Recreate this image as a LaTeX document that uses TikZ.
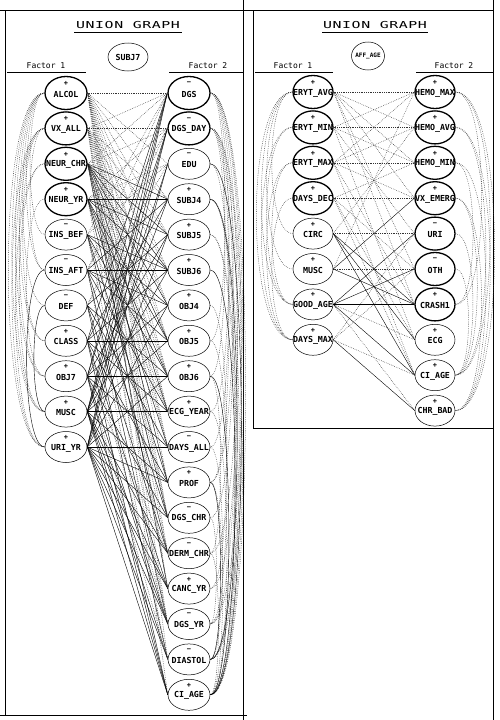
\documentclass[tikz,border=0pt]{standalone}
\usepackage{fontspec}
\newfontfamily\labfont{DejaVu Sans Mono}
\newfontfamily\titlefont{DejaVu Sans Mono}[FakeStretch=1.55,LetterSpace=6]
\usetikzlibrary{shapes.geometric}
\newcommand\grnode[6]{%
  \node[ell,#6] (#1) at (#2,#3) {};
  \node[lab] (#1t) at (#2,#3+1) {#5};
  \node[sgn] (#1s) at (#2,#3-9.5) {#4};}
\begin{document}
\begin{tikzpicture}[x=1pt,y=-1pt,
  ell/.style={draw, ellipse, minimum width=42pt, minimum height=31pt, inner sep=0pt, line width=0.5pt, fill=white},
  tk/.style={line width=1.3pt, minimum height=33pt},
  tn/.style={},
  nar/.style={minimum width=40pt},
  lab/.style={font=\labfont\bfseries\fontsize{8.3}{9}\selectfont, inner sep=0pt},
  sgn/.style={font=\labfont\bfseries\fontsize{7}{8}\selectfont, inner sep=0pt},
  fac/.style={font=\labfont\fontsize{8}{9}\selectfont, inner sep=0pt},
  ttl/.style={font=\titlefont\fontsize{9.6}{11}\selectfont, inner sep=0pt},
  sol/.style={line width=0.4pt, black},
  dot/.style={line width=0.5pt, black!80, dash pattern=on 0.6pt off 1.2pt},
  frm/.style={line width=0.9pt, black}]
\useasboundingbox (0,0) rectangle (499,720);
% frames
\draw[frm] (0,10) -- (493,10);
\draw[frm] (243,0) -- (243,720);
\draw[frm] (493,0) -- (493,720);
\draw[frm] (5,10) -- (5,715);
\draw[frm] (0,715) -- (247,715);
\draw[frm] (253,10) -- (253,428) -- (493,428);
% titles
\node[ttl] (t1) at (128,25) {UNION GRAPH};
\draw[line width=0.6pt] (74,32) -- (182,32);
\node[ttl] (t2) at (375,25) {UNION GRAPH};
\draw[line width=0.6pt] (322,32) -- (428,32);
\node[fac] (f11) at (46,66) {Factor 1};
\node[fac] (f12) at (208,66) {Factor 2};
\draw[line width=0.5pt] (7,72) -- (86,72);
\draw[line width=0.5pt] (169,72) -- (243,72);
\node[fac] (f21) at (293,66) {Factor 1};
\node[fac] (f22) at (454,66) {Factor 2};
\draw[line width=0.5pt] (255,72) -- (333,72);
\draw[line width=0.5pt] (416,72) -- (493,72);
% roots
\node[ell, minimum width=40pt, minimum height=28pt] (lroot) at (128,57) {};
\node[lab] (lroott) at (128,57) {SUBJ7};
\node[ell, minimum width=33pt, minimum height=28pt] (rroot) at (368,56) {};
\node[lab, font=\labfont\bfseries\fontsize{6}{7}\selectfont] (rroott) at (368,56) {AFF\_AGE};
% left panel, column A
\grnode{lA1}{66}{93}{+}{ALCOL}{tk}
\grnode{lA2}{66}{128.4}{+}{VX\_ALL}{tk}
\grnode{lA3}{66}{163.8}{+}{NEUR\_CHR}{tk}
\grnode{lA4}{66}{199.2}{+}{NEUR\_YR}{tk}
\grnode{lA5}{66}{234.6}{−}{INS\_BEF}{tn}
\grnode{lA6}{66}{270}{−}{INS\_AFT}{tn}
\grnode{lA7}{66}{305.4}{−}{DEF}{tn}
\grnode{lA8}{66}{340.8}{+}{CLASS}{tn}
\grnode{lA9}{66}{376.2}{+}{OBJ7}{tn}
\grnode{lA10}{66}{411.6}{+}{MUSC}{tn}
\grnode{lA11}{66}{447}{+}{URI\_YR}{tn}
% left panel, column B
\grnode{lB1}{189}{93}{−}{DGS}{tk}
\grnode{lB2}{189}{128.4}{−}{DGS\_DAY}{tk}
\grnode{lB3}{189}{163.8}{−}{EDU}{tn}
\grnode{lB4}{189}{199.2}{+}{SUBJ4}{tn}
\grnode{lB5}{189}{234.6}{+}{SUBJ5}{tn}
\grnode{lB6}{189}{270}{+}{SUBJ6}{tn}
\grnode{lB7}{189}{305.4}{+}{OBJ4}{tn}
\grnode{lB8}{189}{340.8}{+}{OBJ5}{tn}
\grnode{lB9}{189}{376.2}{+}{OBJ6}{tn}
\grnode{lB10}{189}{411.6}{+}{ECG\_YEAR}{tn}
\grnode{lB11}{189}{447}{−}{DAYS\_ALL}{tn}
\grnode{lB12}{189}{482.4}{+}{PROF}{tn}
\grnode{lB13}{189}{517.8}{−}{DGS\_CHR}{tn}
\grnode{lB14}{189}{553.2}{−}{DERM\_CHR}{tn}
\grnode{lB15}{189}{588.6}{+}{CANC\_YR}{tn}
\grnode{lB16}{189}{624}{−}{DGS\_YR}{tn}
\grnode{lB17}{189}{659.4}{−}{DIASTOL}{tn}
\grnode{lB18}{189}{694.8}{+}{CI\_AGE}{tn}
% right panel, column A
\grnode{rA1}{313}{92}{+}{ERYT\_AVG}{tk,nar}
\grnode{rA2}{313}{127.4}{+}{ERYT\_MIN}{tk,nar}
\grnode{rA3}{313}{162.8}{+}{ERYT\_MAX}{tk,nar}
\grnode{rA4}{313}{198.2}{+}{DAYS\_DEC}{tk,nar}
\grnode{rA5}{313}{233.6}{+}{CIRC}{nar}
\grnode{rA6}{313}{269}{+}{MUSC}{nar}
\grnode{rA7}{313}{304.4}{+}{GOOD\_AGE}{nar}
\grnode{rA8}{313}{339.8}{+}{DAYS\_MAX}{nar}
% right panel, column B
\grnode{rB1}{435}{92}{+}{HEMO\_MAX}{tk,nar}
\grnode{rB2}{435}{127.4}{+}{HEMO\_AVG}{tk,nar}
\grnode{rB3}{435}{162.8}{+}{HEMO\_MIN}{tk,nar}
\grnode{rB4}{435}{198.2}{+}{VX\_EMERG}{tk,nar}
\grnode{rB5}{435}{233.6}{−}{URI}{tk,nar}
\grnode{rB6}{435}{269}{−}{OTH}{tk,nar}
\grnode{rB7}{435}{304.4}{+}{CRASH1}{tk,nar}
\grnode{rB8}{435}{339.8}{+}{ECG}{nar}
\grnode{rB9}{435}{375.2}{+}{CI\_AGE}{nar}
\grnode{rB10}{435}{410.6}{+}{CHR\_BAD}{nar}
% ---- left panel edges
\foreach \a/\b in {3/4,3/5,3/6,3/7,3/8,3/10,3/12,3/15,
  4/4,4/5,4/6,4/8,4/9,4/11,4/13,
  5/6,5/7,5/9,5/12,5/14,
  6/6,6/4,6/7,6/8,6/10,6/13,6/16,
  7/5,7/9,7/11,7/14,7/17,
  8/8,8/4,8/6,8/10,8/12,8/15,8/18,8/1,
  9/9,9/1,9/2,9/5,9/7,9/11,9/13,9/16,9/18,
  10/1,10/2,10/3,10/4,10/6,10/8,10/12,10/14,10/15,10/16,10/17,10/18,
  11/1,11/2,11/3,11/5,11/7,11/9,11/11,11/12,11/13,11/14,11/15,11/16,11/17,11/18}
  \draw[sol] (lA\a.east) -- (lB\b.west);
\draw[line width=1.1pt] (lA10.east) -- (lB10.west);
\foreach \a/\b in {1/1,1/3,1/4,1/5,1/6,1/7,1/8,1/9,1/10,1/11,1/12,1/13,1/14,1/15,1/17,
  2/2,2/1,2/4,2/5,2/6,2/7,2/8,2/9,2/10,2/11,2/13,2/15,2/16,2/18,
  3/1,3/2,3/9,3/11,3/13,3/14,
  4/2,4/3,4/10,4/16,
  5/1,5/3,5/10,5/16,
  6/1,6/2,6/17,
  7/2,7/3,8/16,9/14,9/17}
  \draw[dot] (lA\a.east) -- (lB\b.west);
\foreach \a/\b in {1/5,1/6,1/7,1/8,1/9,1/10,1/11,2/6,2/8,2/9,2/10,2/11,3/10,3/11,4/9}
  \draw[dot] (lA\a.west) to[out=180,in=180,looseness=0.35] (lA\b.west);
\foreach \a/\b in {6/11,7/10}
  \draw[sol] (lA\a.west) to[out=180,in=180,looseness=0.35] (lA\b.west);
\foreach \a/\b in {1/8,1/10,1/12,1/14,1/16,1/17,1/18,2/9,2/11,2/13,2/15,2/17,2/18,3/12,
  4/16,4/18,5/17,5/18,7/15,8/16,9/14,10/18,11/17,12/18,13/16,14/18}
  \draw[dot] (lB\a.east) to[out=0,in=0,looseness=0.2] (lB\b.east);
\foreach \a/\b in {3/18,4/17,6/18,9/18,12/17}
  \draw[sol] (lB\a.east) to[out=0,in=0,looseness=0.2] (lB\b.east);
% ---- right panel edges
\foreach \a/\b in {1/1,1/2,1/3,1/4,1/6,1/7,2/2,2/1,2/3,2/5,2/8,3/3,3/1,3/2,3/4,3/7,3/9,
  4/3,4/4,4/6,4/8,4/9,5/5,5/2,6/6,6/1,7/8,7/10,8/5,8/6,8/9}
  \draw[dot] (rA\a.east) -- (rB\b.west);
\foreach \a/\b in {5/7,5/8,5/9,6/4,6/7,7/5,7/6,7/7,7/9,8/10}
  \draw[sol] (rA\a.east) -- (rB\b.west);
\foreach \a/\b in {1/5,1/6,1/7,1/8,2/7,2/8,3/7,3/8,4/8}
  \draw[dot] (rA\a.west) to[out=180,in=180,looseness=0.5] (rA\b.west);
\foreach \a/\b in {1/7,1/9,1/10,2/9,2/10,3/7,3/10,4/9,4/10,5/9,6/9}
  \draw[dot] (rB\a.east) to[out=0,in=0,looseness=0.42] (rB\b.east);
\end{tikzpicture}
\end{document}
